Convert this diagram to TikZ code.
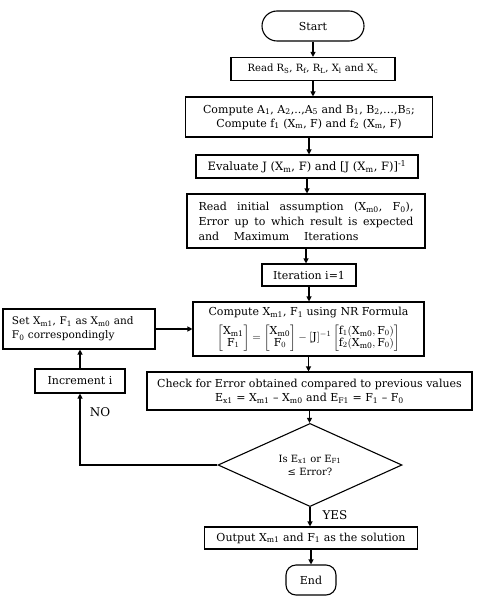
\documentclass[tikz,border=0pt]{standalone}
\usepackage{fontspec}
\usepackage{amsmath}
\setmainfont{DejaVu Serif}
\usetikzlibrary{shapes.geometric,arrows.meta}
\newcommand{\sbs}[1]{\textsubscript{#1}}
\tikzset{
  box/.style={draw, line width=1.1pt, inner sep=2pt, align=center, font=\fontsize{11}{14}\selectfont},
  term/.style={draw, line width=1.1pt, align=center, font=\fontsize{11}{14}\selectfont},
  dec/.style={draw, diamond, line width=1.1pt, inner sep=0pt, align=center, font=\fontsize{10}{13}\selectfont},
  arr/.style={-{Triangle[length=5pt,width=5pt]}, line width=1.1pt},
  lbl/.style={font=\fontsize{12}{14}\selectfont}
}
\begin{document}
\begin{tikzpicture}[x=1pt,y=-1pt]
\useasboundingbox (0,0) rectangle (476,604);
\node[term, rounded corners=15pt, minimum width=102pt, minimum height=30pt] (start) at (313,26) {Start};
\node[box, minimum width=164pt, minimum height=23pt, font=\fontsize{10}{14}\selectfont] (read) at (313,69) {Read R\sbs{S}, R\sbs{f}, R\sbs{L}, X\sbs{l} and X\sbs{c}};
\node[box, minimum width=247pt, minimum height=40pt] (compA) at (309,117) {Compute A\sbs{1}, A\sbs{2},..,A\sbs{5} and B\sbs{1}, B\sbs{2},…,B\sbs{5};\\ Compute f\sbs{1} (X\sbs{m}, F) and f\sbs{2} (X\sbs{m}, F)};
\node[box, minimum width=222pt, minimum height=23pt, font=\fontsize{11.5}{14}\selectfont] (eval) at (307,166.5) {Evaluate J (X\sbs{m}, F) and [J (X\sbs{m}, F)]\textsuperscript{-1}};
\node[box, minimum width=238pt, minimum height=54pt, align=left, text width=215pt, font=\fontsize{11}{15}\selectfont] (init) at (306,221)
  {\makebox[215pt][l]{Read\hfill initial\hfill assumption\hfill (X\sbs{m0},\hfill F\sbs{0}),}\\
   \makebox[215pt][l]{Error\hfill up\hfill to\hfill which\hfill result\hfill is\hfill expected}\\
   \makebox[160pt][l]{and\hfill Maximum\hfill Iterations}};
\node[box, minimum width=94pt, minimum height=22pt] (iter) at (309,275) {Iteration i=1};
\node[box, minimum width=231pt, minimum height=54pt, inner sep=1pt] (compX) at (308.5,329)
  {Compute X\sbs{m1}, F\sbs{1} using NR Formula\\[6pt]
   {\fontsize{11}{12}\selectfont\renewcommand{\arraystretch}{1.0}%
   $\begin{bmatrix}\text{X}_{\text{m1}}\\ \text{F}_{1}\end{bmatrix} = \begin{bmatrix}\text{X}_{\text{m0}}\\ \text{F}_{0}\end{bmatrix} - [\text{J}]^{-1}\begin{bmatrix}\text{f}_1(\text{X}_{\text{m0}},\text{F}_0)\\ \text{f}_2(\text{X}_{\text{m0}},\text{F}_0)\end{bmatrix}$}};
\node[box, minimum width=152pt, minimum height=40pt, align=left, text width=134pt, font=\fontsize{10.5}{14}\selectfont] (set) at (79,329)
  {Set X\sbs{m1}, F\sbs{1} as X\sbs{m0} and\\ F\sbs{0} correspondingly};
\node[box, minimum width=90pt, minimum height=24pt] (inc) at (80,381) {Increment i};
\node[box, minimum width=325pt, minimum height=38pt] (check) at (309.5,391)
  {Check for Error obtained compared to previous values\\ E\sbs{x1} = X\sbs{m1} – X\sbs{m0} and E\sbs{F1} = F\sbs{1} – F\sbs{0}};
\node[dec, minimum width=184pt, minimum height=74pt] (dec) at (310,465) {Is E\sbs{x1} or E\sbs{F1}\\ ≤ Error?};
\node[box, minimum width=213pt, minimum height=22pt] (out) at (311,538) {Output X\sbs{m1} and F\sbs{1} as the solution};
\node[term, rounded corners=10pt, minimum width=50pt, minimum height=30pt] (end) at (311,580) {End};
\node[lbl] (no) at (100,412) {NO};
\node[lbl] (yes) at (335,515) {YES};

\draw[arr] (start) -- (start |- read.north);
\draw[arr] (read) -- (read |- compA.north);
\draw[arr] (compA) -- (compA |- eval.north);
\draw[arr] (eval) -- (eval |- init.north);
\draw[arr] (init) -- (init |- iter.north);
\draw[arr] (iter) -- (iter |- compX.north);
\draw[arr] (compX) -- (compX |- check.north);
\draw[arr] (check) -- (check |- dec.north);
\draw[arr] (dec) -- (dec |- out.north);
\draw[arr] (out) -- (out |- end.north);
\draw[arr] (dec.west) -| (inc.south);
\draw[arr] (inc) -- (inc |- set.south);
\draw[arr] (set) -- (compX);
\end{tikzpicture}
\end{document}
